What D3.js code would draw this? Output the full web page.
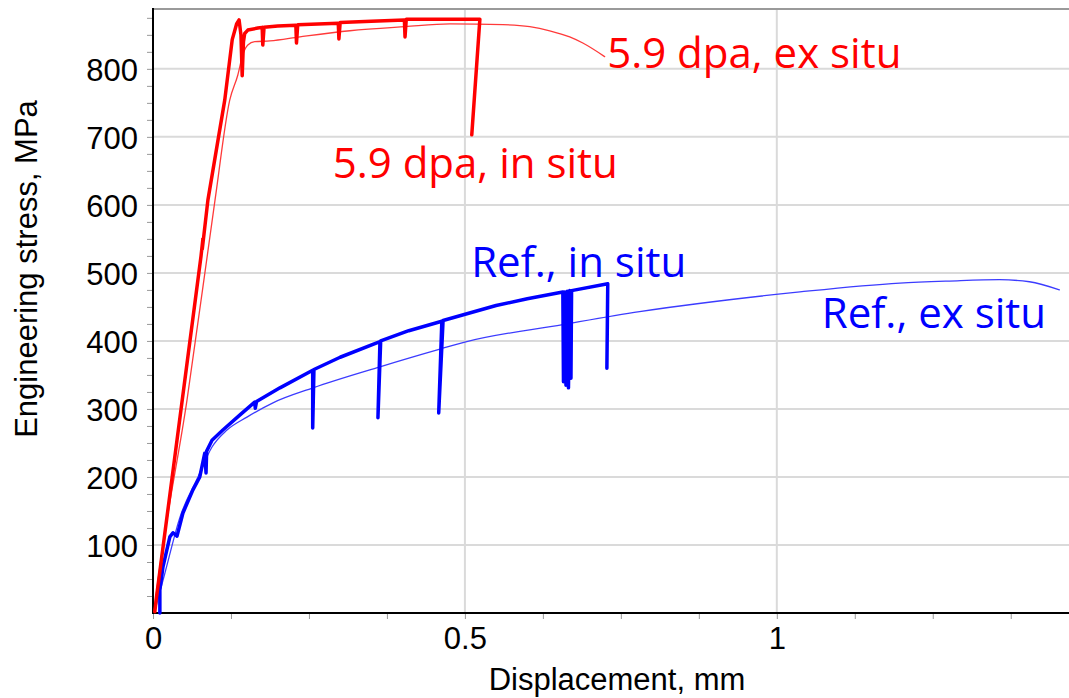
<!DOCTYPE html>
<html lang="en">
<head>
<meta charset="utf-8" />
<title>Engineering stress vs displacement</title>
<style>
  body { margin: 0; padding: 0; background: #fff; }
  svg { display: block; }
  .tick text { font-family: Arial, "Liberation Sans", sans-serif; font-size: 31px; fill: #000; }
  .title { font-family: Arial, "Liberation Sans", sans-serif; font-size: 31px; fill: #000; }
  .note { font-family: "Open Sans", "Noto Sans", sans-serif; font-size: 42px; }
</style>
</head>
<body>
<div id="chart"></div>
<script src="https://d3js.org/d3.v7.min.js"></script>
<script>
// displacement (mm), engineering stress (MPa)
const dpaInSitu = [
  [0.003, 2], [0.005, 19], [0.045, 300], [0.077, 525], [0.080, 550], [0.079, 535],
  [0.088, 607], [0.115, 754], [0.127, 843], [0.134, 866], [0.138, 872], [0.141, 850],
  [0.143, 790], [0.145, 840], [0.147, 852], [0.152, 857], [0.168, 860], [0.175, 861],
  [0.176, 835], [0.178, 861], [0.200, 863], [0.229, 864], [0.230, 838], [0.232, 865],
  [0.297, 867], [0.298, 844], [0.300, 868], [0.350, 870], [0.403, 872], [0.404, 847],
  [0.406, 873], [0.524, 873], [0.511, 703]
];
const dpaExSitu = [
  [0.0016, 1.5], [0.008, 48], [0.0545, 313], [0.0994, 607], [0.123, 754], [0.136, 791],
  [0.144, 821], [0.152, 835], [0.163, 840], [0.1875, 841], [0.2356, 847], [0.3157, 856],
  [0.404, 862], [0.476, 866], [0.561, 865], [0.604, 862], [0.636, 856], [0.668, 847],
  [0.689, 838], [0.724, 818]
];
const refInSitu = [
  [0.011, 0], [0.011, 34], [0.016, 68], [0.027, 112], [0.032, 118], [0.0385, 113],
  [0.048, 147], [0.064, 181], [0.075, 200], [0.083, 235], [0.085, 206], [0.086, 238],
  [0.0946, 254], [0.112, 269], [0.139, 291], [0.163, 310], [0.164, 301], [0.166, 311],
  [0.2035, 331], [0.256, 357], [0.256, 272], [0.258, 358], [0.30, 376], [0.3638, 399],
  [0.3606, 287], [0.365, 400], [0.41, 415], [0.463, 429], [0.458, 294], [0.465, 430],
  [0.55, 452], [0.60, 462], [0.657, 472], [0.658, 340], [0.660, 472], [0.662, 335],
  [0.664, 473], [0.666, 331], [0.668, 474], [0.670, 345], [0.671, 474], [0.729, 484],
  [0.7276, 360]
];
const refExSitu = [
  [0.0032, 4], [0.0192, 59], [0.0433, 141], [0.0721, 200], [0.0946, 244], [0.1186, 269],
  [0.1506, 288], [0.1923, 309], [0.2564, 331], [0.3638, 362], [0.46, 388], [0.503, 399],
  [0.657, 424], [0.78, 443], [1.037, 472], [1.197, 485], [1.277, 488], [1.357, 490],
  [1.405, 487], [1.453, 475]
];
const xTicks = [0, 0.5, 1];
const yTicks = [100, 200, 300, 400, 500, 600, 700, 800];
const notes = [
  { text: '5.9 dpa, ex situ', d: 0.728, s: 801, color: '#ff0000' },
  { text: '5.9 dpa, in situ', d: 0.288, s: 640, color: '#ff0000' },
  { text: 'Ref., in situ', d: 0.510, s: 494, color: '#0000ff' },
  { text: 'Ref., ex situ', d: 1.072, s: 419, color: '#0000ff' }
];

const width = 1069, height = 698;
const mLeft = 153, mTop = 9, mBottom = 613, mRight = 1070;

const svg = d3.select('#chart').append('svg')
    .attr('width', width)
    .attr('height', height);

const x = d3.scaleLinear().domain([0, 1.47]).range([mLeft, mRight]);
const y = d3.scaleLinear().domain([0, 888]).range([mBottom, mTop]);

// grid
svg.append('g')
  .selectAll('line')
  .data(yTicks)
  .enter().append('line')
    .attr('x1', mLeft).attr('x2', mRight)
    .attr('y1', d => y(d)).attr('y2', d => y(d))
    .attr('stroke', '#dadada').attr('stroke-width', 2);

svg.append('g')
  .selectAll('line')
  .data(xTicks.filter(d => d > 0))
  .enter().append('line')
    .attr('x1', d => x(d)).attr('x2', d => x(d))
    .attr('y1', mTop).attr('y2', mBottom)
    .attr('stroke', '#dadada').attr('stroke-width', 2);

svg.append('line')
    .attr('x1', mLeft).attr('x2', mRight)
    .attr('y1', mTop).attr('y2', mTop)
    .attr('stroke', '#9a9a9a').attr('stroke-width', 2);

// axes
const xAxis = d3.axisBottom(x).tickValues(d3.range(0, 1.47, 0.125)).tickSize(6)
    .tickFormat(d => xTicks.includes(d) ? d3.format('~g')(d) : '');
const gx = svg.append('g').attr('transform', `translate(0,${mBottom})`).call(xAxis);
gx.select('.domain').remove();
gx.selectAll('.tick line').attr('stroke', '#999').attr('stroke-width', 1);
gx.selectAll('.tick text').attr('y', 14);

const yAxis = d3.axisLeft(y).tickValues(d3.range(25, 888, 25)).tickSize(6)
    .tickFormat(d => yTicks.includes(d) ? d : '');
const gy = svg.append('g').attr('transform', `translate(${mLeft},0)`).call(yAxis);
gy.select('.domain').remove();
gy.selectAll('.tick line').attr('stroke', '#999').attr('stroke-width', 1);
gy.selectAll('.tick text').attr('x', -15).attr('dy', '0.36em');

svg.append('line')
    .attr('x1', mLeft).attr('x2', mLeft).attr('y1', mTop - 1).attr('y2', mBottom + 1)
    .attr('stroke', '#000').attr('stroke-width', 2);
svg.append('line')
    .attr('x1', mLeft - 1).attr('x2', mRight).attr('y1', mBottom).attr('y2', mBottom)
    .attr('stroke', '#000').attr('stroke-width', 2);

svg.append('text').attr('class', 'title')
    .attr('x', 617).attr('y', 690)
    .attr('text-anchor', 'middle')
    .text('Displacement, mm');

svg.append('text').attr('class', 'title')
    .attr('transform', 'translate(37,269) rotate(-90)')
    .attr('text-anchor', 'middle')
    .text('Engineering stress, MPa');

// curves: ex situ are smooth, in situ keep their sharp unload drops
const lineSharp = d3.line().x(d => x(d[0])).y(d => y(d[1]));
const lineSmooth = d3.line().x(d => x(d[0])).y(d => y(d[1])).curve(d3.curveMonotoneX);

const curves = [
  { data: refExSitu, color: '#3c3cff', w: 1.3, gen: lineSmooth },
  { data: dpaExSitu, color: '#ff3a3a', w: 1.3, gen: lineSmooth },
  { data: refInSitu, color: '#0000ff', w: 3.5, gen: lineSharp },
  { data: dpaInSitu, color: '#ff0000', w: 3.5, gen: lineSharp }
];

svg.append('g')
  .selectAll('path')
  .data(curves)
  .enter().append('path')
    .attr('d', d => d.gen(d.data))
    .attr('fill', 'none')
    .attr('stroke', d => d.color)
    .attr('stroke-width', d => d.w)
    .attr('stroke-linejoin', 'round')
    .attr('stroke-linecap', 'round');

svg.append('g')
  .selectAll('text')
  .data(notes)
  .enter().append('text')
    .attr('class', 'note')
    .attr('x', d => x(d.d))
    .attr('y', d => y(d.s))
    .attr('fill', d => d.color)
    .text(d => d.text);
</script>
</body>
</html>
